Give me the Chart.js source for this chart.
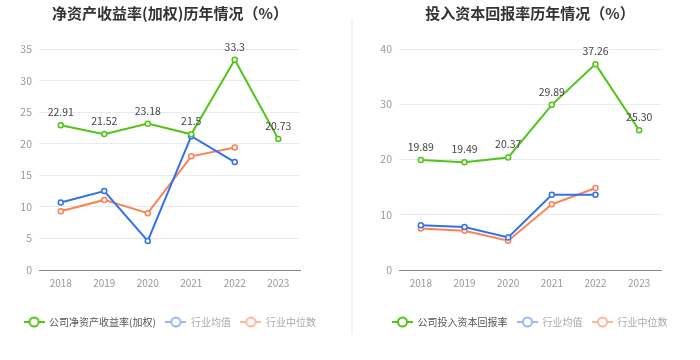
<!DOCTYPE html>
<html>
<head>
<meta charset="utf-8">
<script src="https://cdn.jsdelivr.net/npm/chart.js@4/dist/chart.umd.min.js"></script>
<style>
  html, body { margin: 0; padding: 0; background: #fff; }
  #wrap { width: 700px; height: 360px; position: relative; }
  .box { position: absolute; top: 0; width: 350px; height: 360px; }
  #b1 { left: 0; }
  #b2 { left: 350px; }
  #sep { position: absolute; left: 351px; top: 20px; width: 2px; height: 314px; background: #f3f3f3; }
</style>
</head>
<body>
<div id="wrap">
  <div class="box" id="b1"><canvas id="c1" width="350" height="360"></canvas></div>
  <div class="box" id="b2"><canvas id="c2" width="350" height="360"></canvas></div>
  <div id="sep"></div>
</div>
<script>
// ---- data ----
const years = ['2018', '2019', '2020', '2021', '2022', '2023'];

const roeTitle = '净资产收益率(加权)历年情况（%）';
const roeCompanyLabel = '公司净资产收益率(加权)';
const roeCompany = [22.91, 21.52, 23.18, 21.5, 33.3, 20.73];
const roeIndustryAvg = [10.7, 12.5, 4.6, 21.2, 17.1, null];
const roeIndustryMedian = [9.3, 11.1, 9.0, 18.0, 19.4, null];
const roeTickMax = 35;
const roeTickStep = 5;

const roicTitle = '投入资本回报率历年情况（%）';
const roicCompanyLabel = '公司投入资本回报率';
const roicCompany = [19.89, 19.49, 20.37, 29.89, 37.26, 25.30];
const roicLabels = ['19.89', '19.49', '20.37', '29.89', '37.26', '25.30'];
const roicIndustryAvg = [8.1, 7.8, 5.9, 13.6, 13.6, null];
const roicIndustryMedian = [7.5, 7.1, 5.3, 11.9, 14.85, null];
const roicTickMax = 40;
const roicTickStep = 10;

const avgLabel = '行业均值';
const medianLabel = '行业中位数';

// ---- styles ----
const GREEN = '#52c41a';
const BLUE = '#3370eb';
const ORANGE = '#fa8255';
const BLUE_L = '#9db9f3';
const ORANGE_L = '#fcb79c';
const FONT = '"Noto Sans CJK SC", "Noto Sans", sans-serif';

function legendIcon(color) {
  const c = document.createElement('canvas');
  c.width = 21; c.height = 12;
  const g = c.getContext('2d');
  g.strokeStyle = color; g.lineWidth = 2;
  g.beginPath(); g.moveTo(0, 6); g.lineTo(21, 6); g.stroke();
  g.fillStyle = '#fff';
  g.beginPath(); g.arc(10.5, 6, 4.5, 0, Math.PI * 2); g.fill(); g.stroke();
  return c;
}

const labelPlugin = {
  id: 'valueLabels',
  afterDatasetsDraw(chart, args, opts) {
    const meta = chart.getDatasetMeta(0);
    const ctx = chart.ctx;
    const ds = chart.data.datasets[0];
    const texts = opts.texts;
    ctx.save();
    ctx.font = '10.5px ' + FONT;
    ctx.fillStyle = '#444';
    ctx.textAlign = 'center';
    ctx.textBaseline = 'middle';
    meta.data.forEach((pt, i) => {
      const v = ds.data[i];
      if (v == null) return;
      const t = texts ? texts[i] : String(v);
      ctx.fillText(t, pt.x, pt.y - 13);
    });
    ctx.restore();
  }
};

function makeChart(id, cfg) {
  const icons = [legendIcon(GREEN), legendIcon(BLUE_L), legendIcon(ORANGE_L)];
  const lineDs = (label, data, color) => ({
    label, data, borderColor: color, backgroundColor: '#fff',
    borderWidth: 2, pointRadius: 2.5, pointBorderWidth: 1.5,
    pointBackgroundColor: '#fff', pointBorderColor: color,
    tension: 0, spanGaps: false
  });
  return new Chart(document.getElementById(id), {
    type: 'line',
    data: {
      labels: years,
      datasets: [
        lineDs(cfg.companyLabel, cfg.company, GREEN),
        lineDs(avgLabel, cfg.avg, BLUE),
        lineDs(medianLabel, cfg.median, ORANGE)
      ]
    },
    plugins: [labelPlugin],
    options: {
      responsive: false,
      animation: false,
      layout: { padding: { left: cfg.padL, right: cfg.padR, top: 0, bottom: 23 } },
      plugins: {
        valueLabels: { texts: cfg.texts },
        title: {
          display: true, text: cfg.title, color: '#333',
          font: { family: FONT, size: 15, weight: 'bold' },
          padding: { top: 4, bottom: 27 }
        },
        legend: {
          position: 'bottom',
          labels: {
            usePointStyle: true,
            pointStyleWidth: 20,
            padding: 10,
            font: { family: FONT, size: 10 },
            generateLabels(chart) {
              return chart.data.datasets.map((d, i) => ({
                text: d.label,
                fillStyle: '#fff',
                strokeStyle: 'transparent',
                pointStyle: icons[i],
                fontColor: i === 0 ? '#555' : '#aaa',
                datasetIndex: i,
                hidden: false
              }));
            }
          }
        },
        tooltip: { enabled: false }
      },
      scales: {
        x: {
          offset: true,
          grid: { display: false, drawTicks: true, tickLength: 4, color: '#888', offset: false },
          border: { display: true, color: '#888' },
          ticks: { color: '#999', font: { family: FONT, size: 10 }, padding: 3 },
          afterFit(s) { s.height = 37; }
        },
        y: {
          min: 0, max: cfg.max,
          ticks: { stepSize: cfg.step, color: '#999', font: { family: FONT, size: 10.5 }, padding: 7 },
          grid: { color: '#e6eaf4', drawTicks: false },
          border: { display: false },
          afterFit(s) { s.width = cfg.yW; }
        },
        yR: {
          position: 'right', display: true,
          grid: { display: false }, border: { display: false },
          ticks: { display: false },
          afterFit(s) { s.width = cfg.rW; }
        }
      }
    }
  });
}

makeChart('c1', {
  title: roeTitle, companyLabel: roeCompanyLabel,
  company: roeCompany, avg: roeIndustryAvg, median: roeIndustryMedian,
  max: roeTickMax, step: roeTickStep, texts: null,
  padL: 0, padR: 10, yW: 39, rW: 40
});
makeChart('c2', {
  title: roicTitle, companyLabel: roicCompanyLabel,
  company: roicCompany, avg: roicIndustryAvg, median: roicIndustryMedian,
  max: roicTickMax, step: roicTickStep, texts: roicLabels,
  padL: 10, padR: 0, yW: 39, rW: 39
});
</script>
</body>
</html>
